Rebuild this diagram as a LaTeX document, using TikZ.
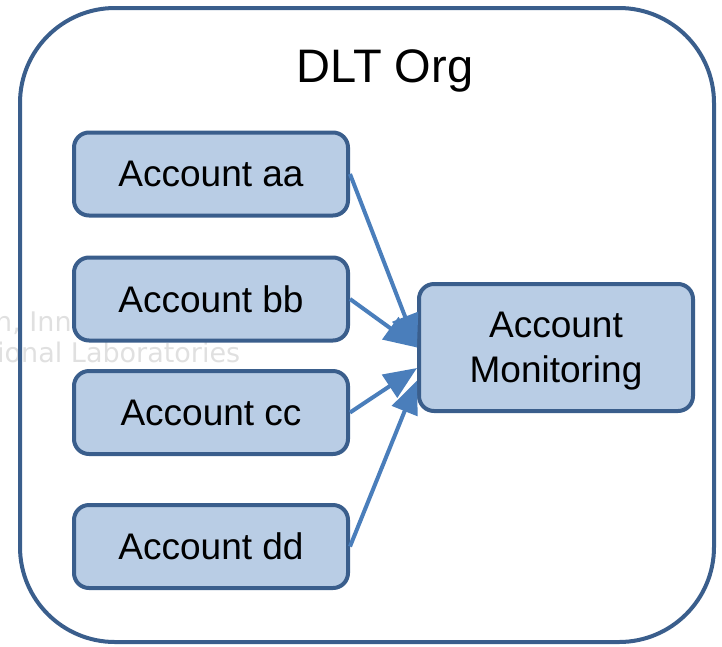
\documentclass[tikz,border=0pt]{standalone}
\usepackage{fontspec}
\setmainfont{Liberation Sans}
\newfontfamily\wmfont{DejaVu Sans}
\usetikzlibrary{arrows.meta,calc}
\definecolor{boxfill}{HTML}{B9CDE5}
\definecolor{boxline}{HTML}{3A5E8C}
\definecolor{arrowblue}{HTML}{4A7EBB}
\begin{document}
\begin{tikzpicture}[x=1pt,y=-1pt,
  acct/.style={draw=boxline, fill=boxfill, line width=4pt, rounded corners=15pt,
    minimum width=274pt, minimum height=83pt, inner sep=0pt,
    font=\fontsize{37}{45}\selectfont, align=center},
  conn/.style={draw=arrowblue, line width=4pt, -{Triangle[length=33pt,width=27pt]}},
  wm/.style={text=black!12, font=\wmfont\fontsize{27}{32}\selectfont, inner sep=0pt, anchor=base west}
]
\useasboundingbox (0,0) rectangle (722,646);
% watermark (faint, partly hidden)
\node[wm] (wm1) at (-5,331) {h, Inn};
\node[wm] (wm2) at (-3,362) {ional Laboratories};
% outer frame
\draw[boxline, line width=4pt, rounded corners=95pt] (20,8) rectangle (714,642);
\node[inner sep=0pt, anchor=base, font=\fontsize{47}{56}\selectfont] (title) at (385,82) {DLT Org};
% boxes
\node[acct] (aa) at (211,174) {Account aa};
\node[acct] (bb) at (211,299) {Account bb};
\node[acct] (cc) at (211,412.5) {Account cc};
\node[acct] (dd) at (211,546.5) {Account dd};
\node[acct, minimum height=127pt] (mon) at (556,347.5) {Account\\\smash{Monitoring}};
% connectors
\coordinate (tc) at ($(mon.west)+(0,20.5)$);
\coordinate (td) at ($(mon.west)+(0,33)$);
\draw[conn] (aa.east) -- (mon.west);
\draw[conn] (bb.east) -- (mon.west);
\draw[conn] (cc.east) -- (tc);
\draw[conn] (dd.east) -- (td);
\end{tikzpicture}
\end{document}
